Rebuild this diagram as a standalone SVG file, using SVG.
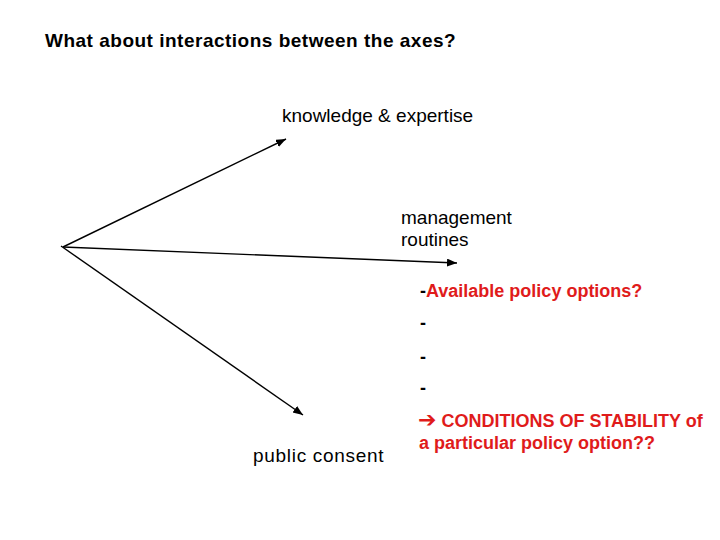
<svg xmlns="http://www.w3.org/2000/svg" width="720" height="540" viewBox="0 0 720 540">
<defs>
<style>
.t{font-family:"Liberation Sans",Arial,Helvetica,sans-serif;font-size:19px;fill:#000}
.title{font-family:"Liberation Sans",Arial,Helvetica,sans-serif;font-size:19px;font-weight:bold;fill:#000;letter-spacing:0.5px}
.r{font-family:"Liberation Sans",Arial,Helvetica,sans-serif;font-size:18px;font-weight:bold;fill:#000}
.red{fill:#e01b1b}
.ax{stroke:#000;stroke-width:1.4;fill:none;marker-end:url(#ah)}
</style>
<marker id="ah" markerUnits="userSpaceOnUse" markerWidth="12" markerHeight="10" refX="10" refY="4" orient="auto">
<path d="M0,0 L10,4 L0,8 Z" fill="#000"/>
</marker>
</defs>
<rect width="720" height="540" fill="#fff"/>
<text class="title" x="45" y="47">What about interactions between the axes?</text>
<g id="connectors">
<line class="ax" x1="63" y1="247" x2="286" y2="139"/>
<line class="ax" x1="63" y1="247" x2="457" y2="263"/>
<line class="ax" x1="61" y1="246" x2="303" y2="415"/>
</g>
<g id="node-knowledge"><text class="t" x="282" y="122">knowledge &amp; expertise</text></g>
<g id="node-management"><text class="t" x="401" y="224">management</text><text class="t" x="401" y="246">routines</text></g>
<g id="node-public"><text class="t" x="253" y="462" style="letter-spacing:0.7px">public consent</text></g>
<g id="notes">
<text class="r" x="420" y="297">-<tspan class="red">Available policy options?</tspan></text>
<text class="r" x="420" y="329">-</text>
<text class="r" x="420" y="363">-</text>
<text class="r" x="420" y="394">-</text>
<text class="r red" x="418" y="427"><tspan font-family="DejaVu Sans, sans-serif" font-size="22">➔</tspan> CONDITIONS OF STABILITY of</text>
<text class="r red" x="419" y="449">a particular policy option??</text>
</g>
</svg>
